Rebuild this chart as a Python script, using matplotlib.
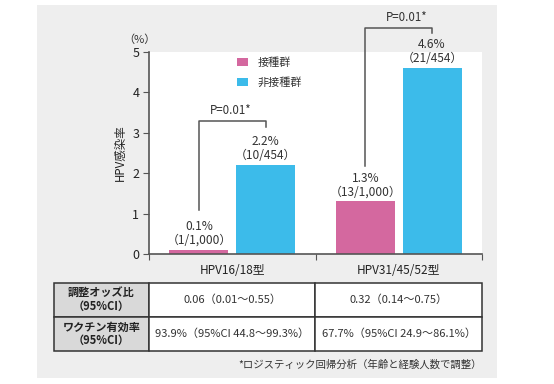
import matplotlib.pyplot as plt
from matplotlib.patches import Rectangle
import numpy as np

plt.rcParams['font.family'] = ['Noto Sans CJK JP', 'DejaVu Sans']

# data
categories = ['HPV16/18型', 'HPV31/45/52型']
groups = ['接種群', '非接種群']
rate_vacc = [0.1, 1.3]
rate_unvacc = [2.2, 4.6]
lbl_vacc = ['0.1%\n（1/1,000）', '1.3%\n（13/1,000）']
lbl_unvacc = ['2.2%\n（10/454）', '4.6%\n（21/454）']
p_text = ['P=0.01*', 'P=0.01*']
row_heads = ['調整オッズ比\n（95%CI）', 'ワクチン有効率\n（95%CI）']
odds = ['0.06（0.01〜0.55）', '0.32（0.14〜0.75）']
efficacy = ['93.9%（95%CI 44.8〜99.3%）', '67.7%（95%CI 24.9〜86.1%）']
footnote = '*ロジスティック回帰分析（年齢と経験人数で調整）'

c_pink = '#d4689f'
c_blue = '#3cbbea'
c_line = '#555555'

W, H = 554, 384
fig = plt.figure(figsize=(W / 100, H / 100), dpi=100)
fig.patch.set_facecolor('white')

def fx(px):
    return px / W

def fy(py):
    return 1 - py / H

# gray panel
fig.patches.append(Rectangle((fx(37), fy(378)), fx(497) - fx(37), fy(5) - fy(378),
                             transform=fig.transFigure, facecolor='#eeeeee', edgecolor='none', zorder=-10))

ax = fig.add_axes([fx(149), fy(254), fx(482) - fx(149), fy(52) - fy(254)])
ax.set_facecolor('white')

x = np.arange(len(categories)) + 0.5
off, bw = 0.2, 0.354
b1 = ax.bar(x - off, rate_vacc, bw, color=c_pink, label=groups[0], zorder=2)
b2 = ax.bar(x + off, rate_unvacc, bw, color=c_blue, label=groups[1], zorder=2)

ax.set_xlim(0, 2)
ax.set_ylim(0, 5)
ax.set_xticks([0, 1, 2])
ax.set_xticklabels([])
ax.set_yticks(range(6))
ax.tick_params(axis='y', labelsize=9, length=4, color=c_line, pad=3, labelcolor='#222222')
ax.tick_params(axis='x', length=4, color=c_line)
for s in ['top', 'right']:
    ax.spines[s].set_visible(False)
for s in ['left', 'bottom']:
    ax.spines[s].set_color(c_line)
    ax.spines[s].set_linewidth(1.2)

for i, cat in enumerate(categories):
    ax.text(x[i], -0.42, cat, ha='center', va='center', fontsize=8.5, color='#222222')

for xi, v, t in zip(x - off, rate_vacc, lbl_vacc):
    ax.text(xi, v + 0.07, t, ha='center', va='bottom', fontsize=8.6, color='#333333', linespacing=1.1)
for xi, v, t in zip(x + off, rate_unvacc, lbl_unvacc):
    ax.text(xi, v + 0.07, t, ha='center', va='bottom', fontsize=8.6, color='#333333', linespacing=1.1)

# significance brackets
br_low = [1.09, 2.18]
br_top = [3.29, 5.59]
br_drop = [3.14, 5.47]
p_x = [0.49, 1.55]
for i in range(len(categories)):
    xl, xr = x[i] - off, x[i] + off
    ax.plot([xl, xl, xr, xr], [br_low[i], br_top[i], br_top[i], br_drop[i]],
            color=c_line, lw=1.1, clip_on=False, zorder=3)
    ax.text(p_x[i], br_top[i] + 0.1, p_text[i], ha='center', va='bottom', fontsize=8.3, color='#333333')

ax.text(-0.06, 5.18, '（%）', ha='center', va='bottom', fontsize=8, color='#333333', clip_on=False)
ax.set_ylabel('HPV感染率', fontsize=8.3, color='#222222', labelpad=4)

ax.legend(loc='upper left', bbox_to_anchor=(0.235, 1.025), frameon=False, fontsize=8,
          handlelength=1.0, handleheight=0.7, handletextpad=0.8, labelspacing=0.9,
          labelcolor='#333333')

# table
tax = fig.add_axes([fx(54), fy(351), fx(482) - fx(54), fy(283) - fy(351)])
tax.axis('off')
cells = [[row_heads[0], odds[0], odds[1]], [row_heads[1], efficacy[0], efficacy[1]]]
colors = [['#d9d9d9', 'white', 'white'], ['#d9d9d9', 'white', 'white']]
tbl = tax.table(cellText=cells, cellColours=colors, colWidths=[95, 166, 167],
                cellLoc='center', bbox=[0, 0, 1, 1])
tbl.auto_set_font_size(False)
tbl.set_fontsize(8)
for (r, c), cell in tbl.get_celld().items():
    cell.set_edgecolor('#333333')
    cell.set_linewidth(1.1)
    cell.get_text().set_color('#333333')
    cell.get_text().set_linespacing(1.0)
    if c == 0:
        cell.get_text().set_fontweight('bold')
        cell.get_text().set_color('#222222')

fig.text(fx(482), fy(365), footnote, ha='right', va='center', fontsize=7.5, color='#333333')

fig.savefig('out.png', dpi=100)
